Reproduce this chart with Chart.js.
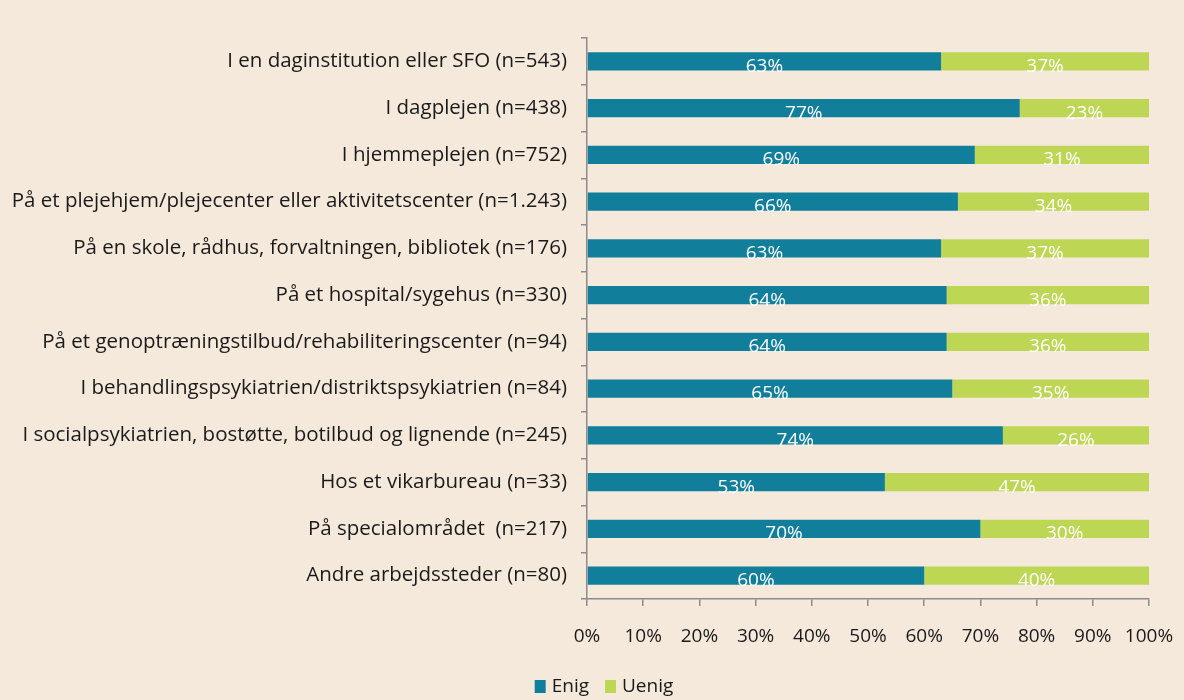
<!DOCTYPE html>
<html><head><meta charset="utf-8">
<script src="https://cdn.jsdelivr.net/npm/chart.js@4/dist/chart.umd.min.js"></script>
<style>html,body{margin:0;padding:0;background:#F5E9DC;}#wrap{width:1184px;height:700px;}</style>
</head><body><div id="wrap"><canvas id="c" width="1184" height="700"></canvas></div>
<script>
const categories = [
  "I en daginstitution eller SFO (n=543)",
  "I dagplejen (n=438)",
  "I hjemmeplejen (n=752)",
  "På et plejehjem/plejecenter eller aktivitetscenter (n=1.243)",
  "På en skole, rådhus, forvaltningen, bibliotek (n=176)",
  "På et hospital/sygehus (n=330)",
  "På et genoptræningstilbud/rehabiliteringscenter (n=94)",
  "I behandlingspsykiatrien/distriktspsykiatrien (n=84)",
  "I socialpsykiatrien, bostøtte, botilbud og lignende (n=245)",
  "Hos et vikarbureau (n=33)",
  "På specialområdet  (n=217)",
  "Andre arbejdssteder (n=80)"
];
const enig  = [63, 77, 69, 66, 63, 64, 64, 65, 74, 53, 70, 60];
const uenig = [37, 23, 31, 34, 37, 36, 36, 35, 26, 47, 30, 40];
const seriesNames = ["Enig", "Uenig"];
const seriesColors = ["#117F9B", "#BDD754"];
const xTicks = [0,10,20,30,40,50,60,70,80,90,100];

const FONT = "'Open Sans', sans-serif";
const labelPlugin = {
  id: 'segLabels',
  afterDatasetsDraw(chart) {
    const ctx = chart.ctx;
    ctx.save();
    ctx.fillStyle = '#ffffff';
    ctx.font = "19px " + FONT;
    ctx.textAlign = 'center';
    ctx.textBaseline = 'middle';
    chart.data.datasets.forEach((ds, di) => {
      chart.getDatasetMeta(di).data.forEach((el, i) => {
        const cx = (el.x + el.base) / 2;
        ctx.fillText(ds.data[i] + '%', cx, el.y + 5);
      });
    });
    ctx.restore();
  }
};
const bgPlugin = {
  id: 'bg',
  beforeDraw(chart){ const c=chart.ctx; c.save(); c.fillStyle='#F5E9DC'; c.fillRect(0,0,chart.width,chart.height); c.restore(); }
};
const legendPlugin = {
  id: 'customLegend',
  afterDraw(chart) {
    const ctx = chart.ctx;
    ctx.save();
    ctx.font = "19px " + FONT;
    ctx.textBaseline = 'middle';
    ctx.textAlign = 'left';
    const box = 11, gap = 6, itemGap = 16;
    const widths = chart.data.datasets.map(ds => box + gap + ctx.measureText(ds.label).width);
    const total = widths.reduce((a,b)=>a+b,0) + itemGap*(widths.length-1);
    let x = 604 - total/2;
    const y = 687;
    chart.data.datasets.forEach((ds, i) => {
      ctx.fillStyle = ds.backgroundColor;
      ctx.fillRect(x, y - 7, box, 13);
      ctx.fillStyle = '#1a1a1a';
      ctx.fillText(ds.label, x + box + gap, y);
      x += widths[i] + itemGap;
    });
    ctx.restore();
  }
};

new Chart(document.getElementById('c'), {
  type: 'bar',
  data: {
    labels: categories,
    datasets: [
      { label: seriesNames[0], data: enig, backgroundColor: seriesColors[0], barPercentage: 0.39, categoryPercentage: 1 },
      { label: seriesNames[1], data: uenig, backgroundColor: seriesColors[1], barPercentage: 0.39, categoryPercentage: 1 }
    ]
  },
  options: {
    indexAxis: 'y',
    responsive: false,
    animation: false,
    layout: { padding: { top: 38, right: 35, left: 0, bottom: 26 } },
    scales: {
      x: {
        stacked: true, min: 0, max: 100,
        afterBuildTicks: s => { s.ticks = xTicks.map(v => ({value: v})); },
        afterFit: s => { s.height = 75; s.paddingLeft = 0; s.paddingRight = 0; },
        grid: { drawOnChartArea: false, tickLength: 7, color: '#8c8c8c', lineWidth: 1.5 },
        border: { color: '#8c8c8c', width: 1.5 },
        ticks: { callback: v => v + '%', color: '#1a1a1a', font: { size: 19, family: FONT }, padding: 19, maxRotation: 0 }
      },
      y: {
        stacked: true,
        afterFit: s => { s.width = 587; },
        grid: { drawOnChartArea: false, offset: true, tickLength: 6, color: '#8c8c8c', lineWidth: 1.5 },
        border: { color: '#8c8c8c', width: 1.5 },
        ticks: { color: '#1a1a1a', font: { size: 20.5, family: FONT }, padding: 14, autoSkip: false }
      }
    },
    plugins: {
      legend: { display: false },
      tooltip: { enabled: false }
    }
  },
  plugins: [bgPlugin, labelPlugin, legendPlugin]
});
</script></body></html>
